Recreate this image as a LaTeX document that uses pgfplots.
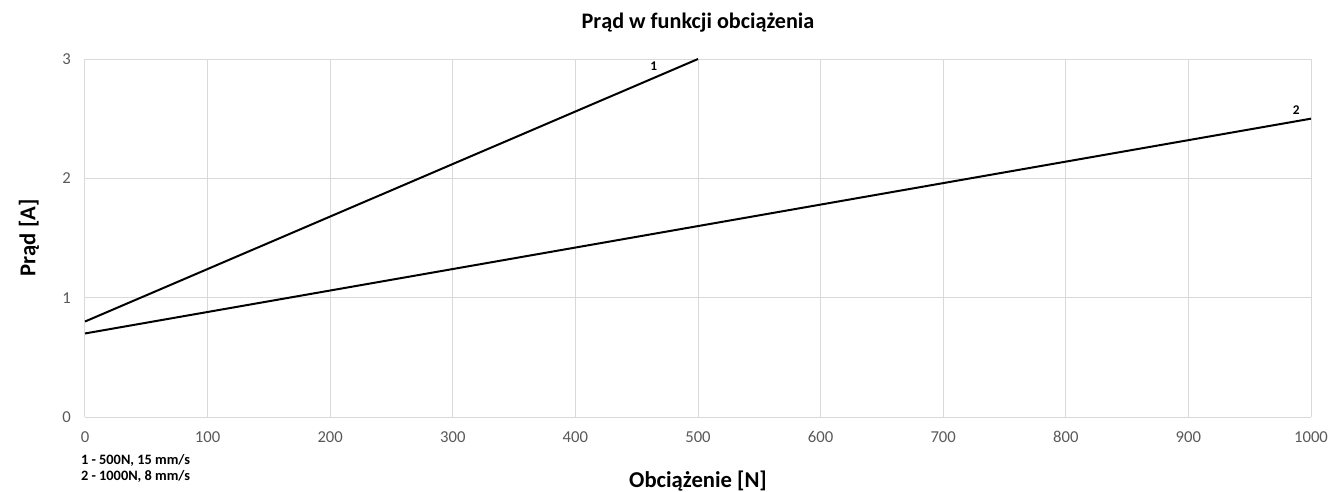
\documentclass[border=0pt]{standalone}
\usepackage{fontspec}
\setmainfont{Carlito}
\usepackage{pgfplots}
\pgfplotsset{compat=1.18}
\definecolor{gridgray}{HTML}{D9D9D9}
\definecolor{ticktxt}{HTML}{595959}
\begin{document}
\begin{tikzpicture}
\begin{axis}[
    scale only axis,
    width=735.6pt, height=214.8pt,
    xmin=0, xmax=1000, ymin=0, ymax=3,
    xtick={0,100,...,1000}, ytick={0,1,2,3},
    grid=major,
    major grid style={gridgray, line width=0.6pt},
    axis line style={draw=none},
    tick style={draw=none},
    /pgf/number format/assume math mode=true,
    /pgf/number format/1000 sep={},
    tick label style={font=\fontsize{10}{12}\selectfont, text=ticktxt},
    xticklabel style={yshift=-5pt},
    yticklabel style={xshift=-5pt},
    title={\textbf{Prąd w funkcji obciążenia}},
    title style={font=\fontsize{13.3}{15}\selectfont, at={(axis description cs:0.5,1)}, anchor=center, yshift=16pt},
    xlabel={\textbf{Obciążenie [N]}},
    xlabel style={font=\fontsize{13.6}{15}\selectfont, at={(axis description cs:0.5,0)}, anchor=center, yshift=-38.4pt},
    ylabel={\textbf{Prąd [A]}},
    ylabel style={font=\fontsize{13.6}{15}\selectfont, at={(axis description cs:-0.0457,0.5)}, anchor=center},
    clip=false,
]
\addplot[black, line width=1.2pt] coordinates {(0,0.8) (500,3.0)};
\addplot[black, line width=1.2pt] coordinates {(0,0.7) (1000,2.5)};
\node[font=\fontsize{8}{9}\selectfont\bfseries] at (axis cs:464,2.94) {1};
\node[font=\fontsize{8}{9}\selectfont\bfseries] at (axis cs:988,2.57) {2};
\node[font=\fontsize{8.6}{9.6}\selectfont\bfseries, anchor=west] at (axis cs:-8,-0.36) {1 - 500N, 15 mm/s};
\node[font=\fontsize{8.6}{9.6}\selectfont\bfseries, anchor=west] at (axis cs:-8,-0.495) {2 - 1000N, 8 mm/s};
\end{axis}
\pgfresetboundingbox
\path (-51pt,-44.4pt) rectangle (748.2pt,250.2pt);
\end{tikzpicture}
\end{document}
